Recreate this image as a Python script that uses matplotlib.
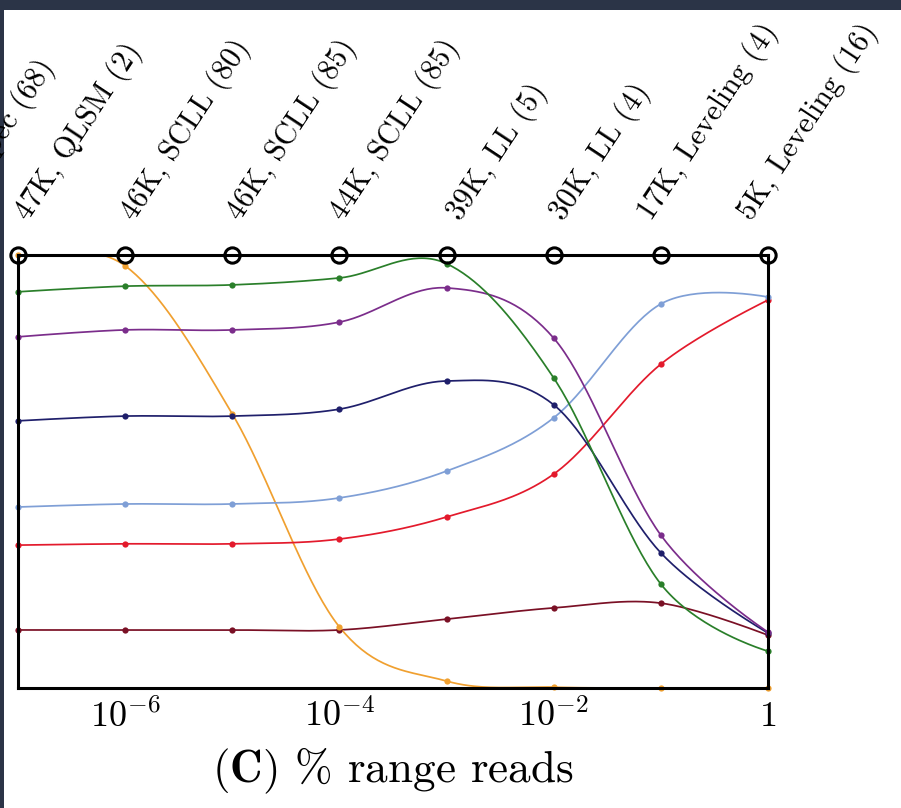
import numpy as np
import matplotlib
matplotlib.use("Agg")
import matplotlib.pyplot as plt
from matplotlib.patches import Rectangle

plt.rcParams['mathtext.fontset'] = 'cm'

# ---------------- data ----------------
x_vals = [1e-7, 1e-6, 1e-5, 1e-4, 1e-3, 1e-2, 1e-1, 1.0]
top_labels = ["47K, QLSM (2)", "46K, SCLL (80)", "46K, SCLL (85)", "44K, SCLL (85)",
              "39K, LL (5)", "30K, LL (4)", "17K, Leveling (4)", "5K, Leveling (16)"]
cut_label = "48K, Spec (68)"   # label of a point left of the visible crop

green = [0.915, 0.928, 0.931, 0.947, 0.980, 0.716, 0.240, 0.085]
purple = [0.811, 0.827, 0.827, 0.845, 0.924, 0.808, 0.353, 0.129]
navy = [0.617, 0.628, 0.628, 0.644, 0.709, 0.654, 0.312, 0.127]
lightblue = [0.418, 0.425, 0.425, 0.439, 0.501, 0.624, 0.887, 0.903]
red = [0.330, 0.333, 0.333, 0.344, 0.395, 0.494, 0.748, 0.896]
maroon = [0.134, 0.134, 0.134, 0.134, 0.159, 0.185, 0.196, 0.122]
orange = [1.000, 0.975, 0.633, 0.141, 0.016, 0.002, 0.000, 0.000]

series = [
    (maroon, '#7a1025'),
    (orange, '#f0a030'),
    (red, '#e31a2c'),
    (lightblue, '#7f9fd6'),
    (navy, '#1f1f6b'),
    (purple, '#7b2d8b'),
    (green, '#2a7f2a'),
]

xtick_vals = [1e-6, 1e-4, 1e-2, 1.0]
xtick_labels = [r'$10^{-6}$', r'$10^{-4}$', r'$10^{-2}$', r'$1$']
xlabel = r'$\mathbf{(C)}$ % range reads'

# layout: horizontal shift (pixels) of each rotated top label relative to its point
label_dx_px = [4, 3, 2, -3, 7, 3, -16, -23]


def smooth(xs, ys, t=0.17, n=40):
    P = np.column_stack([np.log10(xs), ys])
    N = len(P)
    out = []
    s = np.linspace(0, 1, n)[:, None]
    for i in range(N - 1):
        p0, p3 = P[i], P[i + 1]
        c1 = p0 + t * (P[i + 1] - P[i - 1]) if i > 0 else p0
        c2 = p3 - t * (P[i + 2] - P[i]) if i + 1 < N - 1 else p3
        seg = ((1 - s) ** 3) * p0 + 3 * ((1 - s) ** 2) * s * c1 + 3 * (1 - s) * s ** 2 * c2 + s ** 3 * p3
        out.append(seg if i == 0 else seg[1:])
    out = np.vstack(out)
    return 10 ** out[:, 0], out[:, 1]


W, H = 901, 808
fig = plt.figure(figsize=(W / 100, H / 100), dpi=100)
fig.patch.set_facecolor('white')
band = '#2b3447'
fig.patches.append(Rectangle((0, 1 - 10 / H), 1, 10 / H, transform=fig.transFigure,
                             facecolor=band, edgecolor='none', zorder=0))
fig.patches.append(Rectangle((0, 0), 4 / W, 1, transform=fig.transFigure,
                             facecolor=band, edgecolor='none', zorder=0))

L, R, T, B = 18, 768, 255, 688
ax = fig.add_axes([L / W, 1 - B / H, (R - L) / W, (B - T) / H])
ax.set_xscale('log')
ax.set_xlim(1e-7, 1.0)
ax.set_ylim(0, 1)

for ys, c in series:
    sx, sy = smooth(x_vals, ys)
    ax.plot(sx, sy, color=c, lw=1.25, zorder=3)
    ax.plot(x_vals, ys, 'o', color=c, ms=4.5, mew=0, zorder=4, clip_on=False)

ax.plot(x_vals, [1.0] * len(x_vals), 'o', mfc='none', mec='black', ms=11, mew=2.2,
        zorder=6, clip_on=False)

for sp in ax.spines.values():
    sp.set_linewidth(2.2)
    sp.set_color('black')
    sp.set_zorder(5)

ax.set_yticks([])
ax.minorticks_off()
ax.set_xticks(xtick_vals)
ax.set_xticklabels(xtick_labels, fontsize=26)
ax.tick_params(axis='x', length=0, pad=8)
ax.xaxis.set_minor_locator(matplotlib.ticker.NullLocator())
ax.set_xlabel(xlabel, fontsize=32.5, family='cmr10', labelpad=8)

pt = 72 / 100
for xv, lab, dx in zip(x_vals, top_labels, label_dx_px):
    ax.annotate(lab, xy=(xv, 1.0), xycoords=('data', 'axes fraction'),
                xytext=(dx * pt, 38 * pt), textcoords='offset points',
                ha='left', va='center', rotation=56.5, rotation_mode='anchor',
                fontsize=21.5, family='cmr10', annotation_clip=False)

fig.text(48 / W, 1 - 62 / H, cut_label, ha='right', va='center', rotation=56.5,
         rotation_mode='anchor', fontsize=21.5, family='cmr10')

fig.savefig('out.png', dpi=100, facecolor=fig.get_facecolor())
